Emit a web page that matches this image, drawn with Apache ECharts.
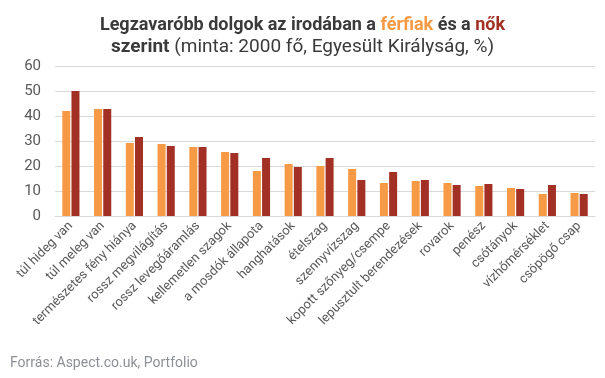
<!DOCTYPE html>
<html><head><meta charset="utf-8">
<script src="https://cdn.jsdelivr.net/npm/echarts@6/dist/echarts.min.js"></script>
<style>html,body{margin:0;padding:0;background:#fff}#c{width:605px;height:378px}</style>
</head><body><div id="c"></div>
<script>
const categories = ['túl hideg van','túl meleg van','természetes fény hiánya','rossz megvilágítás','rossz levegőáramlás','kellemetlen szagok','a mosdók állapota','hanghatások','ételszag','szennyvízszag','kopott szőnyeg/csempe','lepusztult berendezések','rovarok','penész','csótányok','vízhőmérséklet','csöpögő csap'];
const ferfiak = [42, 42.8, 29.2, 28.8, 27.6, 25.6, 18, 20.8, 20, 18.8, 13.2, 14, 13.2, 12, 11.2, 8.8, 9.2];
const nok = [50, 42.8, 31.6, 28, 27.6, 25.2, 23.2, 19.6, 23.2, 14.4, 17.6, 14.4, 12.4, 12.8, 10.8, 12.4, 8.8];
const yTicks = [0, 10, 20, 30, 40, 50, 60];

const chart = echarts.init(document.getElementById('c'));
chart.setOption({
  animation: false,
  textStyle: {fontFamily: 'Roboto'},
  title: {
    left: 'center', top: 14, padding: 0,
    text: '{b|Legzavaróbb dolgok az irodában a }{o|férfiak}{b| és a }{r|nők}\n{b2|szerint}{n| (minta: 2000 fő, Egyesült Királyság, %)}',
    textStyle: {
      rich: {
        b: {fontFamily: 'Roboto', fontWeight: 'bold', fontSize: 18, color: '#3a3a3a', lineHeight: 22},
        o: {fontFamily: 'Roboto', fontWeight: 'bold', fontSize: 18, color: '#f79a45', lineHeight: 22},
        r: {fontFamily: 'Roboto', fontWeight: 'bold', fontSize: 18, color: '#a33024', lineHeight: 22},
        b2: {fontFamily: 'Roboto', fontWeight: 'bold', fontSize: 19, color: '#3a3a3a', lineHeight: 22},
        n: {fontFamily: 'Roboto', fontWeight: 'normal', fontSize: 19, color: '#3a3a3a', lineHeight: 22}
      }
    }
  },
  graphic: [{
    type: 'text', left: 10, top: 356,
    style: {text: 'Forrás: Aspect.co.uk, Portfolio', fill: '#8c9096', font: '14px Roboto'}
  }],
  grid: {left: 55, right: 10, top: 66, bottom: 162},
  xAxis: {
    type: 'category', data: categories,
    axisLine: {lineStyle: {color: '#d9d9d9'}},
    axisTick: {show: false},
    axisLabel: {rotate: 45, color: '#595959', fontSize: 13, interval: 0, margin: 8}
  },
  yAxis: {
    type: 'value', min: yTicks[0], max: yTicks[yTicks.length - 1], interval: 10,
    axisLine: {show: false}, axisTick: {show: false},
    splitLine: {lineStyle: {color: '#d9d9d9', width: 1}},
    axisLabel: {color: '#595959', fontSize: 15, margin: 14}
  },
  series: [
    {name: 'férfiak', type: 'bar', data: ferfiak, barWidth: 8, barGap: '15%', itemStyle: {color: '#f79a45'}},
    {name: 'nők', type: 'bar', data: nok, barWidth: 8, itemStyle: {color: '#a33024'}}
  ]
});
</script></body></html>
